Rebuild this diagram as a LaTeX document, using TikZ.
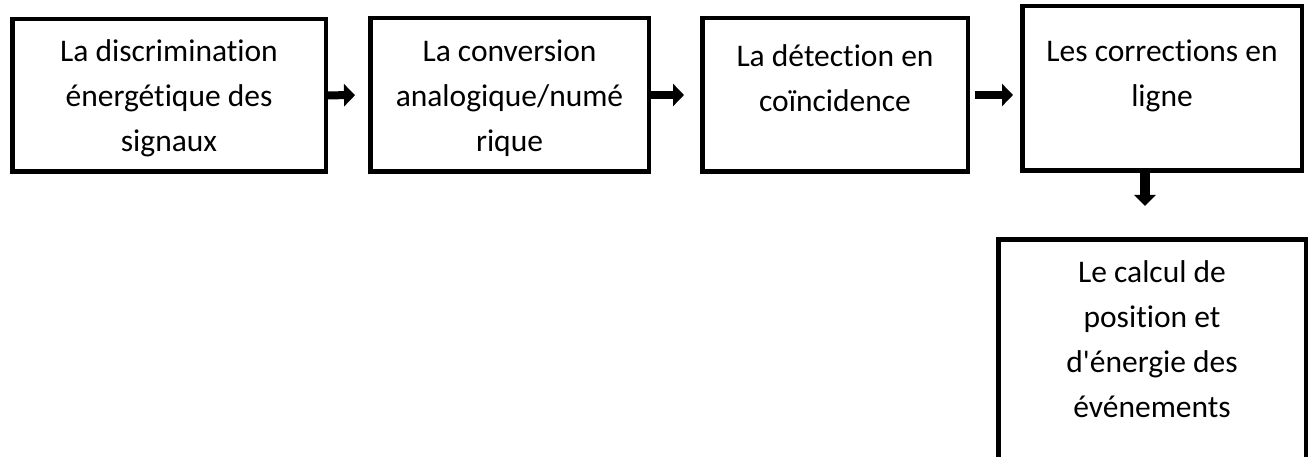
\documentclass[tikz,border=0pt]{standalone}
\usepackage{fontspec}
\setmainfont{Carlito}[Ligatures=NoCommon]
\usepackage{tikz}
\usetikzlibrary{arrows.meta,positioning,calc}

\begin{document}
\begin{tikzpicture}[x=1pt, y=-1pt,
  box/.style={draw, line width=4.5pt, rectangle, inner sep=0pt},
  lbl/.style={align=center, inner sep=0pt, anchor=base, font=\fontsize{31.5}{45}\selectfont},
  flow/.style={line width=8pt, -{Triangle[length=11pt, width=22pt]}}]
\useasboundingbox (0,0) rectangle (1311,457);
% Top row
\node[box, minimum width=313.5pt, minimum height=152.5pt] (b1) at (169,95.5) {};
\node[box, minimum width=278.5pt, minimum height=153.5pt] (b2) at (509.5,95) {};
\node[box, minimum width=265.5pt, minimum height=153.5pt] (b3) at (835,95) {};
\node[box, minimum width=279.5pt, minimum height=164.5pt] (b4) at (1162,88.5) {};
% Bottom box, runs off the page
\node[box, minimum width=307.5pt, minimum height=219.5pt] (b5) at (1152,349) {};

% Texts (anchored on the last line)
\node[lbl] (t1) at (169,152) {La discrimination\\énergétique des\\signaux};
\node[lbl] (t2) at (509.5,152) {La conversion\\analogique/numé\\rique};
\node[lbl] (t3) at (835,112) {La détection en\\coïncidence};
\node[lbl] (t4) at (1162,107) {Les corrections en\\ligne};
\node[lbl] (t5) at (1152,417) {Le calcul de\\position et\\d\textquotesingle énergie des\\événements};

% Arrows
\draw[flow, shorten >=13pt] (b1) -- (b2);
\draw[flow, shorten <=-2pt, shorten >=16pt] (b2) -- (b3);
\draw[flow, shorten <=5pt, shorten >=7pt] (b3) -- (b3 -| b4.west);
\draw[flow, line width=9.5pt, -{Triangle[length=11pt, width=21pt]}, shorten >=31pt]
  ([xshift=-17pt]b4.south) -- ([xshift=-17pt]b4.south |- b5.north);
\end{tikzpicture}
\end{document}
